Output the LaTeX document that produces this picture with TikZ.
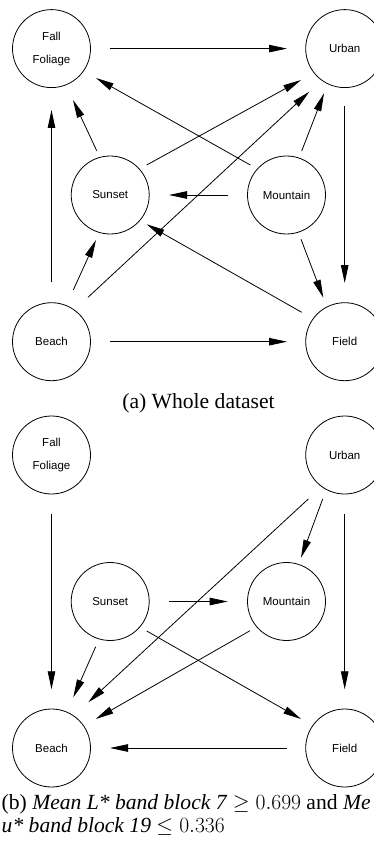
\RequirePackage{fix-cm}
\documentclass[tikz,border=0pt]{standalone}
\usepackage{fontspec}
\setmainfont{Liberation Serif}
\newfontfamily\nodefont{Liberation Sans}
\usetikzlibrary{arrows.meta}
\tikzset{
  state/.style={circle, draw, line width=0.8pt, minimum size=78pt, inner sep=0pt,
    font=\nodefont\fontsize{11.5}{23}\selectfont, align=center},
  arr/.style={-{Triangle[length=18pt,width=7.5pt]}, line width=0.8pt},
  captxt/.style={inner sep=0pt, font=\fontsize{21.6}{23}\selectfont}
}
\begin{document}
\begin{tikzpicture}[x=1pt,y=1pt]
\useasboundingbox (0,0) rectangle (374,-842);
\clip (0,0) rectangle (374,-842);
% ---------- (a) ----------
\node[state] (FFa) at (51.5,-48.6) {Fall\\Foliage};
\node[state] (Ua)  at (344.7,-48.6) {Urban};
\node[state] (Sa)  at (110.2,-195) {Sunset};
\node[state] (Ma)  at (286.5,-195) {Mountain};
\node[state] (Ba)  at (51.5,-341.7) {Beach};
\node[state] (Fa)  at (344.7,-341.7) {Field};

\draw[arr] ([shift={(58.5pt,0pt)}]FFa.center) -- ([shift={(-57.7pt,0pt)}]Ua.center);
\draw[arr] ([shift={(-36.2pt,30pt)}]Ma.center) -- ([shift={(44.5pt,-29.4pt)}]FFa.center);
\draw[arr] ([shift={(-13.5pt,44.3pt)}]Sa.center) -- ([shift={(21.5pt,-51.4pt)}]FFa.center);
\draw[arr] ([shift={(0pt,59.7pt)}]Ba.center) -- ([shift={(0pt,-61.4pt)}]FFa.center);
\draw[arr] ([shift={(36.5pt,30pt)}]Sa.center) -- ([shift={(-43.7pt,-31.4pt)}]Ua.center);
\draw[arr] ([shift={(36.5pt,44.4pt)}]Ba.center) -- ([shift={(-35.4pt,-43.1pt)}]Ua.center);
\draw[arr] ([shift={(15.2pt,44pt)}]Ma.center) -- ([shift={(-20.7pt,-44.7pt)}]Ua.center);
\draw[arr] ([shift={(-58.5pt,0pt)}]Ma.center) -- ([shift={(58.8pt,0pt)}]Sa.center);
\draw[arr] ([shift={(0pt,-57.4pt)}]Ua.center) -- ([shift={(0pt,58.7pt)}]Fa.center);
\draw[arr] ([shift={(21.8pt,51.7pt)}]Ba.center) -- ([shift={(-14.2pt,-45pt)}]Sa.center);
\draw[arr] ([shift={(-43pt,29.4pt)}]Fa.center) -- ([shift={(36.5pt,-29.3pt)}]Sa.center);
\draw[arr] ([shift={(14.5pt,-44.3pt)}]Ma.center) -- ([shift={(-21.4pt,44pt)}]Fa.center);
\draw[arr] ([shift={(58.5pt,0pt)}]Ba.center) -- ([shift={(-57.7pt,0pt)}]Fa.center);

\node[captxt, anchor=base] (capa) at (198.5,-408.5) {(a) Whole dataset};

% ---------- (b) ----------
\node[state] (FFb) at (51.5,-455) {Fall\\Foliage};
\node[state] (Ub)  at (344.7,-455) {Urban};
\node[state] (Sb)  at (110.2,-601.5) {Sunset};
\node[state] (Mb)  at (286.5,-601.5) {Mountain};
\node[state] (Bb)  at (51.5,-748) {Beach};
\node[state] (Fb)  at (344.7,-748) {Field};

\draw[arr] ([shift={(0pt,-59.3pt)}]FFb.center) -- ([shift={(0pt,58.7pt)}]Bb.center);
\draw[arr] ([shift={(-22pt,-44pt)}]Ub.center) -- ([shift={(14.5pt,43.8pt)}]Mb.center);
\draw[arr] ([shift={(-36.4pt,-44pt)}]Ub.center) -- ([shift={(36.8pt,45.7pt)}]Bb.center);
\draw[arr] ([shift={(58.8pt,0pt)}]Sb.center) -- ([shift={(-58.8pt,0pt)}]Mb.center);
\draw[arr] ([shift={(-14.5pt,-45.2pt)}]Sb.center) -- ([shift={(21.8pt,50.7pt)}]Bb.center);
\draw[arr] ([shift={(36.5pt,-29.5pt)}]Sb.center) -- ([shift={(-43.7pt,29pt)}]Fb.center);
\draw[arr] ([shift={(-36.5pt,-29.2pt)}]Mb.center) -- ([shift={(44.2pt,29pt)}]Bb.center);
\draw[arr] ([shift={(0pt,-59.3pt)}]Ub.center) -- ([shift={(0pt,58.7pt)}]Fb.center);
\draw[arr] ([shift={(-57.7pt,0pt)}]Fb.center) -- ([shift={(58.5pt,0pt)}]Bb.center);

\node[captxt, anchor=base west, align=left] (capb) at (1.5,-832)
  {(b) \textit{Mean L* band block 7} $\geq 0.699$ and \textit{Me}\\
   \textit{u* band block 19} $\leq 0.336$};
\end{tikzpicture}
\end{document}
